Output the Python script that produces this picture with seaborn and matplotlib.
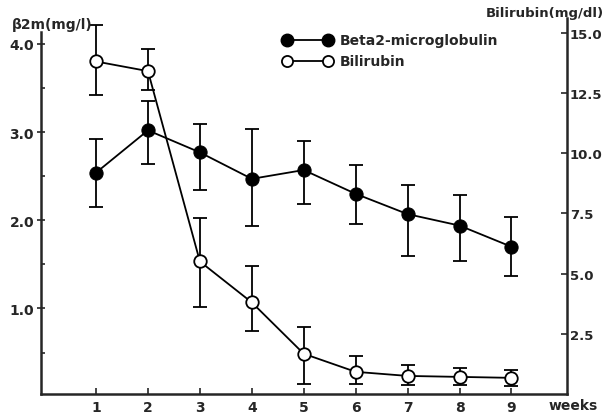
import numpy as np
import pandas as pd
import matplotlib
matplotlib.use("Agg")
import matplotlib.pyplot as plt
import seaborn as sns
from matplotlib.lines import Line2D

weeks = [1, 2, 3, 4, 5, 6, 7, 8, 9]
b2m = [2.54, 3.02, 2.77, 2.47, 2.57, 2.30, 2.07, 1.94, 1.70]
b2m_hi = [2.92, 3.35, 3.09, 3.03, 2.90, 2.63, 2.40, 2.29, 2.04]
b2m_lo = [2.15, 2.64, 2.34, 1.94, 2.18, 1.96, 1.60, 1.54, 1.37]
bil = [13.8, 13.4, 5.5, 3.8, 1.67, 0.92, 0.75, 0.71, 0.67]
bil_hi = [15.3, 14.3, 7.3, 5.3, 2.8, 1.58, 1.2, 1.08, 1.0]
bil_lo = [12.4, 12.6, 3.6, 2.6, 0.42, 0.42, 0.37, 0.37, 0.33]
left_ticks = [1.0, 2.0, 3.0, 4.0]
right_ticks = [2.5, 5.0, 7.5, 10.0, 12.5, 15.0]

sns.set_style("ticks")
plt.rcParams['font.family'] = ['DejaVu Sans']
plt.rcParams['font.weight'] = 'bold'

fig = plt.figure(figsize=(6.05, 4.14), dpi=100)
ax = fig.add_axes([41/605, 19/414, (567-41)/605, (395-22)/414])
ax2 = ax.twinx()

df = pd.DataFrame({"week": weeks, "b2m": b2m, "bil": bil})

# Beta2 on left axis
ax.errorbar(weeks, b2m,
            yerr=[np.array(b2m) - np.array(b2m_lo), np.array(b2m_hi) - np.array(b2m)],
            fmt='none', ecolor='black', elinewidth=1.3, capsize=5, capthick=1.3, zorder=2)
sns.lineplot(data=df, x="week", y="b2m", ax=ax, color='black', linewidth=1.3,
             marker='o', markersize=9.5, markerfacecolor='black', markeredgecolor='black',
             zorder=3)

# Bilirubin on right axis
ax2.errorbar(weeks, bil,
             yerr=[np.array(bil) - np.array(bil_lo), np.array(bil_hi) - np.array(bil)],
             fmt='none', ecolor='black', elinewidth=1.3, capsize=5, capthick=1.3, zorder=2)
sns.lineplot(data=df, x="week", y="bil", ax=ax2, color='black', linewidth=1.3,
             marker='o', markersize=9, markerfacecolor='white', markeredgecolor='black',
             markeredgewidth=1.3, zorder=3)

ax.set_xlim(-0.06, 10.07)
ax.set_ylim(0.03, 4.26)
ax2.set_ylim(0, 15.48)

ax.set_xticks(weeks)
ax.set_xticklabels([str(w) for w in weeks], fontsize=10, fontweight='bold')
ax.set_yticks(left_ticks)
ax.set_yticklabels([f"{v:.1f}" for v in left_ticks], fontsize=10, fontweight='bold')
ax.set_yticks([0.5, 1.5, 2.5, 3.5], minor=True)
ax2.set_yticks(right_ticks)
ax2.set_yticklabels([f"{v:.1f}" for v in right_ticks], fontsize=9.5, fontweight='bold')

ax.tick_params(axis='x', direction='in', length=4, width=1.2, pad=4)
ax.tick_params(axis='y', which='major', direction='inout', length=6, width=1.2, pad=2)
ax.tick_params(axis='y', which='minor', direction='in', length=3, width=1.2)
ax2.tick_params(axis='y', direction='in', length=4, width=1.2, pad=2)

for a in (ax, ax2):
    a.spines['top'].set_visible(False)
    a.set_xlabel('')
    a.set_ylabel('')
    for s in a.spines.values():
        s.set_linewidth(1.8)
ax.spines['right'].set_visible(False)
ax2.spines['left'].set_visible(False)
ax2.spines['bottom'].set_visible(False)
ax.spines['left'].set_bounds(0.03, 4.13)
ax2.spines['right'].set_bounds(0, 15.6)

fig.text(12/605, 1 - 25/414, "β2m(mg/l)", fontsize=10, fontweight='bold', va='center', ha='left')
fig.text(604/605, 1 - 13/414, "Bilirubin(mg/dl)", fontsize=9.5, fontweight='bold', va='center', ha='right')
fig.text(573/605, 1 - 406/414, "weeks", fontsize=10, fontweight='bold', va='center', ha='center')

handles = [
    Line2D([0], [0], color='black', lw=1.3, marker='o', markersize=9,
           markerfacecolor='black', markeredgecolor='black'),
    Line2D([0], [0], color='black', lw=1.3, marker='o', markersize=8,
           markerfacecolor='white', markeredgecolor='black', markeredgewidth=1.3),
]
leg = ax2.legend(handles, ["Beta2-microglobulin", "Bilirubin"], numpoints=2,
                 loc='upper left', bbox_to_anchor=((270 - 41) / 526, 1.0),
                 frameon=False, handlelength=3.6, handletextpad=0.5,
                 prop={'size': 10, 'weight': 'bold'}, labelspacing=0.5)

fig.savefig("out.png", dpi=100)
